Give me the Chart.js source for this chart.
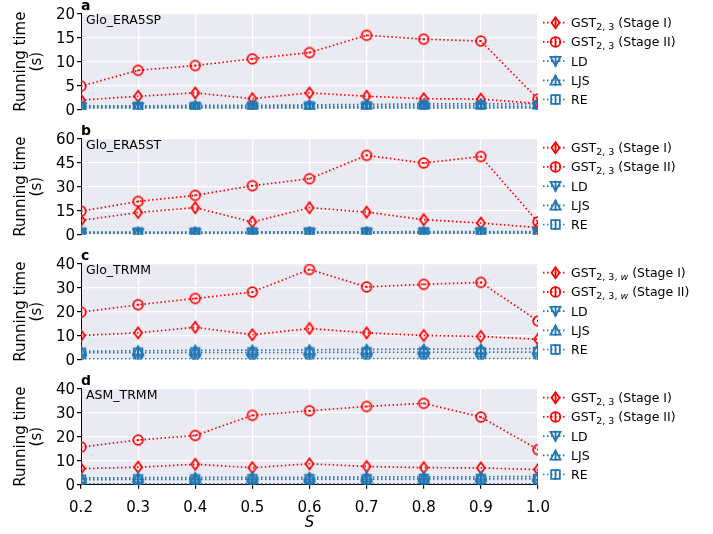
<!DOCTYPE html>
<html><head><meta charset="utf-8">
<script src="https://cdn.jsdelivr.net/npm/chart.js@4"></script>
<style>
html,body{margin:0;padding:0;background:#fff;}
#wrap{position:relative;width:713px;height:534px;overflow:hidden;}
.pane{position:absolute;left:0;width:713px;}
canvas{display:block;}
</style></head><body>
<div id="wrap">
<div class="pane" style="top:0;height:125px"><canvas id="c0" width="713" height="125"></canvas></div>
<div class="pane" style="top:125px;height:125px"><canvas id="c1" width="713" height="125"></canvas></div>
<div class="pane" style="top:250px;height:125px"><canvas id="c2" width="713" height="125"></canvas></div>
<div class="pane" style="top:375px;height:159px"><canvas id="c3" width="713" height="159"></canvas></div>
</div>
<script>
// ---------- data ----------
const S = [0.2, 0.3, 0.4, 0.5, 0.6, 0.7, 0.8, 0.9, 1.0];
const xTickValues = [0.2, 0.3, 0.4, 0.5, 0.6, 0.7, 0.8, 0.9, 1.0];
const panelLetters = ['a', 'b', 'c', 'd'];
const panelNames = ['Glo_ERA5SP', 'Glo_ERA5ST', 'Glo_TRMM', 'ASM_TRMM'];
const yMax = [20, 60, 40, 40];
const yStep = [5, 15, 10, 10];
const seriesNames = ['GST (Stage I)', 'GST (Stage II)', 'LD', 'LJS', 'RE'];

const stageI_a  = [2.0, 2.8, 3.5, 2.3, 3.5, 2.8, 2.3, 2.2, 1.3];
const stageII_a = [4.9, 8.2, 9.2, 10.6, 11.9, 15.5, 14.7, 14.3, 2.2];
const LD_a  = [0.4, 0.4, 0.4, 0.4, 0.4, 0.4, 0.4, 0.4, 0.4];
const LJS_a = [0.8, 0.8, 0.9, 0.9, 1.0, 1.1, 1.2, 1.2, 1.2];
const RE_a  = [0.6, 0.6, 0.6, 0.7, 0.7, 0.7, 0.8, 0.8, 0.7];

const stageI_b  = [8.9, 13.9, 16.9, 7.9, 16.9, 14.1, 9.4, 7.3, 4.4];
const stageII_b = [14.7, 20.8, 24.6, 30.6, 35.0, 49.6, 44.8, 48.9, 7.9];
const LD_b  = [0.8, 0.8, 0.8, 0.8, 0.9, 0.9, 0.9, 0.9, 0.9];
const LJS_b = [1.6, 1.6, 1.7, 1.7, 1.8, 1.8, 1.9, 1.9, 2.0];
const RE_b  = [1.3, 1.3, 1.3, 1.4, 1.4, 1.4, 1.5, 1.5, 1.5];

const stageI_c  = [10.1, 11.2, 13.5, 10.4, 13.0, 11.2, 10.1, 9.7, 8.5];
const stageII_c = [19.8, 22.9, 25.5, 28.2, 37.6, 30.3, 31.4, 32.2, 16.1];
const LD_c  = [0.4, 0.4, 0.4, 0.4, 0.4, 0.5, 0.5, 0.5, 0.5];
const LJS_c = [3.5, 3.7, 3.9, 4.0, 4.1, 4.3, 4.4, 4.5, 4.6];
const RE_c  = [2.9, 2.9, 3.0, 3.0, 3.0, 3.1, 3.1, 3.1, 3.2];

const stageI_d  = [6.7, 7.3, 8.5, 7.1, 8.7, 7.6, 7.1, 7.0, 6.3];
const stageII_d = [15.7, 18.6, 20.5, 28.9, 30.8, 32.6, 33.9, 28.2, 14.6];
const LD_d  = [0.4, 0.4, 0.4, 0.4, 0.4, 0.4, 0.4, 0.4, 0.4];
const LJS_d = [2.8, 2.9, 3.0, 3.1, 3.1, 3.2, 3.3, 3.3, 3.4];
const RE_d  = [2.1, 2.2, 2.2, 2.3, 2.3, 2.3, 2.4, 2.4, 2.4];

const panels = [
  [stageI_a, stageII_a, LD_a, LJS_a, RE_a],
  [stageI_b, stageII_b, LD_b, LJS_b, RE_b],
  [stageI_c, stageII_c, LD_c, LJS_c, RE_c],
  [stageI_d, stageII_d, LD_d, LJS_d, RE_d]
];

// ---------- styles ----------
const RED = '#ff0000', BLUE = '#1f77b4';
const seriesColor = [RED, RED, BLUE, BLUE, BLUE];
const seriesShape = ['diamond', 'circle', 'tdown', 'tup', 'square'];
const plotBar = [0, 1, 5, 5, 5];
const FONT = "'DejaVu Sans', sans-serif";

function drawShape(g, kind, cx, cy, bar) {
  g.beginPath();
  if (kind === 'diamond') { g.moveTo(cx, cy - 5.5); g.lineTo(cx + 4, cy); g.lineTo(cx, cy + 5.5); g.lineTo(cx - 4, cy); g.closePath(); }
  else if (kind === 'circle') { g.arc(cx, cy, 4.8, 0, Math.PI * 2); }
  else if (kind === 'tdown') { g.moveTo(cx - 5, cy - 4.3); g.lineTo(cx + 5, cy - 4.3); g.lineTo(cx, cy + 4.7); g.closePath(); }
  else if (kind === 'tup') { g.moveTo(cx - 5, cy + 4.3); g.lineTo(cx + 5, cy + 4.3); g.lineTo(cx, cy - 4.7); g.closePath(); }
  else if (kind === 'square') { g.rect(cx - 4.3, cy - 4.3, 8.6, 8.6); }
  g.stroke();
  if (bar) { g.beginPath(); g.moveTo(cx, cy - bar); g.lineTo(cx, cy + bar); g.stroke(); }
}
function makeMarker(kind, color, bar) {
  const c = document.createElement('canvas'); c.width = 18; c.height = 18;
  const g = c.getContext('2d'); g.strokeStyle = color; g.lineWidth = 1.8;
  drawShape(g, kind, 9, 9, bar);
  return c;
}
const markers = seriesShape.map((k, i) => makeMarker(k, seriesColor[i], plotBar[i]));

function legendTextParts(p, i) {
  if (i >= 2) return [{ t: seriesNames[i] }];
  const stage = i === 0 ? ' (Stage I)' : ' (Stage II)';
  if (p === 2) return [{ t: 'GST' }, { t: '2, 3, ', sub: true }, { t: 'w', sub: true, it: true }, { t: stage }];
  return [{ t: 'GST' }, { t: '2, 3', sub: true }, { t: stage }];
}

function panelPlugin(p) {
  return {
    id: 'panel' + p,
    beforeDraw(chart) {
      const a = chart.chartArea, ctx = chart.ctx;
      ctx.save(); ctx.fillStyle = '#eaeaf2';
      ctx.fillRect(a.left, a.top, a.right - a.left, a.bottom - a.top);
      ctx.restore();
    },
    afterDraw(chart) {
      const a = chart.chartArea, ctx = chart.ctx;
      ctx.save();
      ctx.fillStyle = '#000';
      ctx.textBaseline = 'alphabetic'; ctx.textAlign = 'left';
      ctx.font = "bold 14px " + FONT;
      ctx.fillText(panelLetters[p], a.left, a.top - 3.5);
      ctx.font = "12.5px " + FONT;
      ctx.fillText(panelNames[p], a.left + 5, a.top + 10.5);
      // legend
      for (let i = 0; i < 5; i++) {
        const y = a.top + 9 + 19.2 * i;
        ctx.strokeStyle = seriesColor[i]; ctx.lineWidth = 1.7; ctx.setLineDash([1.5, 2.5]);
        ctx.beginPath(); ctx.moveTo(543, y); ctx.lineTo(567, y); ctx.stroke();
        ctx.setLineDash([]);
        ctx.lineWidth = 1.8;
        drawShape(ctx, seriesShape[i], 555.5, y, 5.5);
        let x = 571;
        ctx.fillStyle = '#000';
        for (const part of legendTextParts(p, i)) {
          const sz = part.sub ? 9.5 : 12.5;
          ctx.font = (part.it ? 'italic ' : '') + sz + 'px ' + FONT;
          ctx.fillText(part.t, x, y + 4.5 + (part.sub ? 3 : 0));
          x += ctx.measureText(part.t).width;
        }
      }
      ctx.restore();
    }
  };
}

Chart.defaults.font.family = FONT;
Chart.defaults.color = '#000';

function buildChart(p) {
  const last = p === 3;
  const canvas = document.getElementById('c' + p);
  const H = canvas.height;
  const top = 13.7, plotH = 96;
  const vals = panels[p];
  const order = [4, 3, 2, 1, 0]; // draw Stage I first, RE last (on top)
  const datasets = order.map(i => ({
    label: seriesNames[i],
    data: S.map((x, k) => ({ x: x, y: vals[i][k] })),
    borderColor: seriesColor[i],
    borderWidth: 1.7,
    borderDash: [1.5, 2.5],
    fill: false,
    tension: 0,
    pointStyle: markers[i],
    pointRadius: 5,
    pointHoverRadius: 5,
    clip: 0
  }));
  return new Chart(canvas, {
    type: 'line',
    data: { datasets },
    plugins: [panelPlugin(p)],
    options: {
      responsive: false,
      animation: false,
      events: [],
      layout: { padding: { left: 0, top: top, right: 713 - 538, bottom: last ? 0 : H - top - plotH } },
      plugins: { legend: { display: false }, tooltip: { enabled: false } },
      scales: {
        x: {
          type: 'linear', min: 0.2, max: 1.0,
          afterBuildTicks(scale) { scale.ticks = xTickValues.map(v => ({ value: v })); },
          afterFit(scale) { scale.height = last ? H - top - plotH : 0; },
          grid: { color: '#ffffff', lineWidth: 1.2, drawTicks: last, tickLength: 4, tickColor: '#000' },
          border: { display: last, color: '#000', width: 1 },
          ticks: { display: last, padding: 10, font: { size: 15 }, color: '#000', maxRotation: 0, autoSkip: false,
                   callback: v => Number(v).toFixed(1) },
          title: { display: last, text: 'S', font: { size: 15, style: 'italic' }, color: '#000', padding: { top: 0, bottom: 2 } }
        },
        y: {
          min: 0, max: yMax[p],
          afterBuildTicks(scale) {
            const t = []; for (let v = 0; v <= yMax[p] + 1e-9; v += yStep[p]) t.push({ value: v });
            scale.ticks = t;
          },
          afterFit(scale) { scale.width = 81; },
          grid: { color: '#ffffff', lineWidth: 1.2, drawTicks: true, tickLength: 4, tickColor: '#000' },
          border: { display: true, color: '#000', width: 1 },
          ticks: { padding: 2, labelOffset: 1.5, font: { size: 15 }, color: '#000' },
          title: { display: true, text: ['Running time', '(s)'], font: { size: 15, lineHeight: 1.07 }, color: '#000', padding: { top: 13, bottom: 0 } }
        }
      }
    }
  });
}
for (let p = 0; p < 4; p++) buildChart(p);
</script>
</body></html>
